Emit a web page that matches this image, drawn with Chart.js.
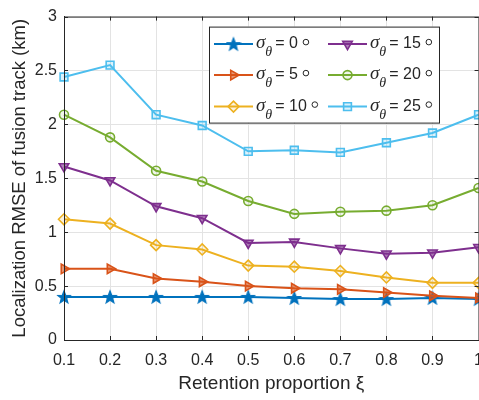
<!DOCTYPE html>
<html>
<head>
<meta charset="utf-8">
<script src="https://cdn.jsdelivr.net/npm/chart.js@4.4.1/dist/chart.umd.min.js"></script>
<style>
  html, body { margin: 0; padding: 0; background: #fff; }
  #wrap { width: 479px; height: 400px; overflow: hidden; }
</style>
</head>
<body>
<div id="wrap"><canvas id="chart" width="494" height="400"></canvas></div>
<script>
// retention proportion (x categories)
const xTicks = ['0.1', '0.2', '0.3', '0.4', '0.5', '0.6', '0.7', '0.8', '0.9', '1']
const sigmas = [0, 5, 10, 15, 20, 25]

// localization RMSE (km) per sigma_theta
const rmse0 = [0.40, 0.40, 0.40, 0.40, 0.40, 0.39, 0.38, 0.38, 0.39, 0.38]
const rmse5 = [0.66, 0.66, 0.57, 0.54, 0.50, 0.48, 0.47, 0.44, 0.41, 0.39]
const rmse10 = [1.12, 1.08, 0.88, 0.84, 0.69, 0.68, 0.64, 0.58, 0.53, 0.53]
const rmse15 = [1.61, 1.48, 1.24, 1.13, 0.90, 0.91, 0.85, 0.80, 0.81, 0.86]
const rmse20 = [2.09, 1.88, 1.57, 1.47, 1.29, 1.17, 1.19, 1.20, 1.25, 1.41]
const rmse25 = [2.44, 2.55, 2.09, 1.99, 1.75, 1.76, 1.74, 1.83, 1.92, 2.09]

const yTicks = [0, 0.5, 1, 1.5, 2, 2.5, 3]

const colors = ['#0072BD', '#D95319', '#EDB120', '#7E2F8E', '#77AC30', '#4DBEEE']
const textColor = '#262626'
const gridColor = '#e3e3e3'
const sans = '"Liberation Sans", Arial, sans-serif'

function starImage(color) {
  const c = document.createElement('canvas')
  c.width = 16
  c.height = 16
  const g = c.getContext('2d')
  g.beginPath()
  for (let k = 0; k < 10; k++) {
    const r = k % 2 === 0 ? 6.6 : 2.8
    const a = -Math.PI / 2 + k * Math.PI / 5
    g.lineTo(8 + r * Math.cos(a), 8.5 + r * Math.sin(a))
  }
  g.closePath()
  g.fillStyle = color
  g.fill()
  g.strokeStyle = color
  g.lineWidth = 1.2
  g.stroke()
  return c
}

function hexA(hex, a) {
  const n = parseInt(hex.slice(1), 16)
  return `rgba(${n >> 16},${(n >> 8) & 255},${n & 255},${a})`
}

const markers = [
  { pointStyle: starImage(colors[0]), radius: 6, rotation: 0, fill: 1 },
  { pointStyle: 'triangle', radius: 5.5, rotation: 90, fill: 0.6 },
  { pointStyle: 'rectRot', radius: 5.5, rotation: 0, fill: 0.15 },
  { pointStyle: 'triangle', radius: 5.5, rotation: 180, fill: 0.6 },
  { pointStyle: 'circle', radius: 4.5, rotation: 0, fill: 0.1 },
  { pointStyle: 'rect', radius: 5.5, rotation: 0, fill: 0.2 },
]

const series = [rmse0, rmse5, rmse10, rmse15, rmse20, rmse25]

const datasets = series.map((vals, i) => ({
  label: 'σθ = ' + sigmas[i] + '°',
  data: vals,
  borderColor: colors[i],
  backgroundColor: hexA(colors[i], markers[i].fill),
  borderWidth: 2,
  pointStyle: markers[i].pointStyle,
  pointRadius: markers[i].radius,
  pointRotation: markers[i].rotation,
  pointBorderWidth: 1.6,
  pointBorderColor: colors[i],
  pointBackgroundColor: hexA(colors[i], markers[i].fill),
  tension: 0,
  order: series.length - i,
}))

// box + inward ticks like matlab axes
const boxPlugin = {
  id: 'box',
  afterDraw(chart) {
    const { ctx, chartArea: a, scales } = chart
    ctx.save()
    ctx.strokeStyle = textColor
    ctx.lineWidth = 1
    ctx.strokeRect(a.left + 0.5, a.top + 0.5, a.right - a.left, a.bottom - a.top)
    ctx.beginPath()
    scales.x.ticks.forEach((t, i) => {
      const px = Math.round(scales.x.getPixelForTick(i)) + 0.5
      ctx.moveTo(px, a.bottom); ctx.lineTo(px, a.bottom - 4)
      ctx.moveTo(px, a.top); ctx.lineTo(px, a.top + 4)
    })
    yTicks.forEach(v => {
      const py = Math.round(scales.y.getPixelForValue(v)) + 0.5
      ctx.moveTo(a.left, py); ctx.lineTo(a.left + 4, py)
      ctx.moveTo(a.right, py); ctx.lineTo(a.right - 4, py)
    })
    ctx.stroke()
    ctx.restore()
  }
}

function drawSigmaLabel(g, x, y, deg) {
  g.fillStyle = textColor
  g.textAlign = 'left'
  g.textBaseline = 'alphabetic'
  g.font = 'italic 19px "Liberation Serif", serif'
  g.fillText('σ', x, y)
  x += g.measureText('σ').width
  g.font = 'italic 14px "Liberation Serif", serif'
  g.fillText('θ', x, y + 8)
  x += g.measureText('θ').width + 3
  g.font = '16px ' + sans
  const s = '= ' + deg
  g.fillText(s, x, y)
  x += g.measureText(s).width + 5
  g.beginPath()
  g.lineWidth = 1
  g.strokeStyle = textColor
  g.arc(x + 3, y - 6, 2.8, 0, Math.PI * 2)
  g.stroke()
}

const legendPlugin = {
  id: 'matLegend',
  afterDraw(chart) {
    const { ctx, chartArea: a } = chart
    const L = a.left + 145
    const T = a.top + 10
    const W = 230
    const H = 96
    ctx.save()
    ctx.fillStyle = '#fff'
    ctx.fillRect(L, T, W, H)
    ctx.strokeStyle = textColor
    ctx.lineWidth = 1
    ctx.strokeRect(L + 0.5, T + 0.5, W, H)
    const rows = [17.5, 48.5, 80]
    const cols = [5, 119]
    datasets.forEach((ds, i) => {
      const col = Math.floor(i / 3)
      const row = i % 3
      const x0 = L + cols[col]
      const y0 = T + rows[row]
      ctx.strokeStyle = ds.borderColor
      ctx.lineWidth = 2
      ctx.beginPath()
      ctx.moveTo(x0, y0)
      ctx.lineTo(x0 + 39, y0)
      ctx.stroke()
      ctx.fillStyle = ds.pointBackgroundColor
      ctx.lineWidth = ds.pointBorderWidth
      if (Chart.helpers && Chart.helpers.drawPoint) {
        Chart.helpers.drawPoint(ctx, {
          pointStyle: ds.pointStyle,
          radius: ds.pointRadius,
          rotation: ds.pointRotation,
          borderWidth: ds.pointBorderWidth
        }, x0 + 19.5, y0)
      }
      drawSigmaLabel(ctx, x0 + 42, y0 + 4, sigmas[i])
    })
    ctx.restore()
  }
}

const ctx = document.getElementById('chart')
new Chart(ctx, {
  type: 'line',
  data: { labels: xTicks, datasets },
  options: {
    responsive: false,
    animation: false,
    layout: { padding: { top: 13, right: 12, left: 0, bottom: 0 } },
    plugins: {
      legend: { display: false },
      tooltip: { enabled: false }
    },
    scales: {
      x: {
        offset: false,
        grid: { color: gridColor, drawTicks: false },
        border: { color: textColor },
        ticks: {
          color: textColor,
          font: { family: sans, size: 16 },
          padding: 11,
          maxRotation: 0,
          autoSkip: false
        },
        title: {
          display: true,
          text: 'Retention proportion ξ',
          color: textColor,
          font: { family: sans, size: 19 },
          padding: { top: 0, bottom: 5 }
        },
        afterFit: s => { s.height = 60 }
      },
      y: {
        min: 0,
        max: 3,
        grid: { color: gridColor, drawTicks: false },
        border: { color: textColor },
        ticks: {
          stepSize: 0.5,
          color: textColor,
          font: { family: sans, size: 16 },
          padding: 7,
          callback: v => String(v)
        },
        title: {
          display: true,
          text: 'Localization RMSE of fusion track (km)',
          color: textColor,
          font: { family: sans, size: 18.5 },
          padding: { top: 9, bottom: 0 }
        },
        afterFit: s => { s.width = 64 }
      }
    }
  },
  plugins: [boxPlugin, legendPlugin]
})
</script>
</body>
</html>
